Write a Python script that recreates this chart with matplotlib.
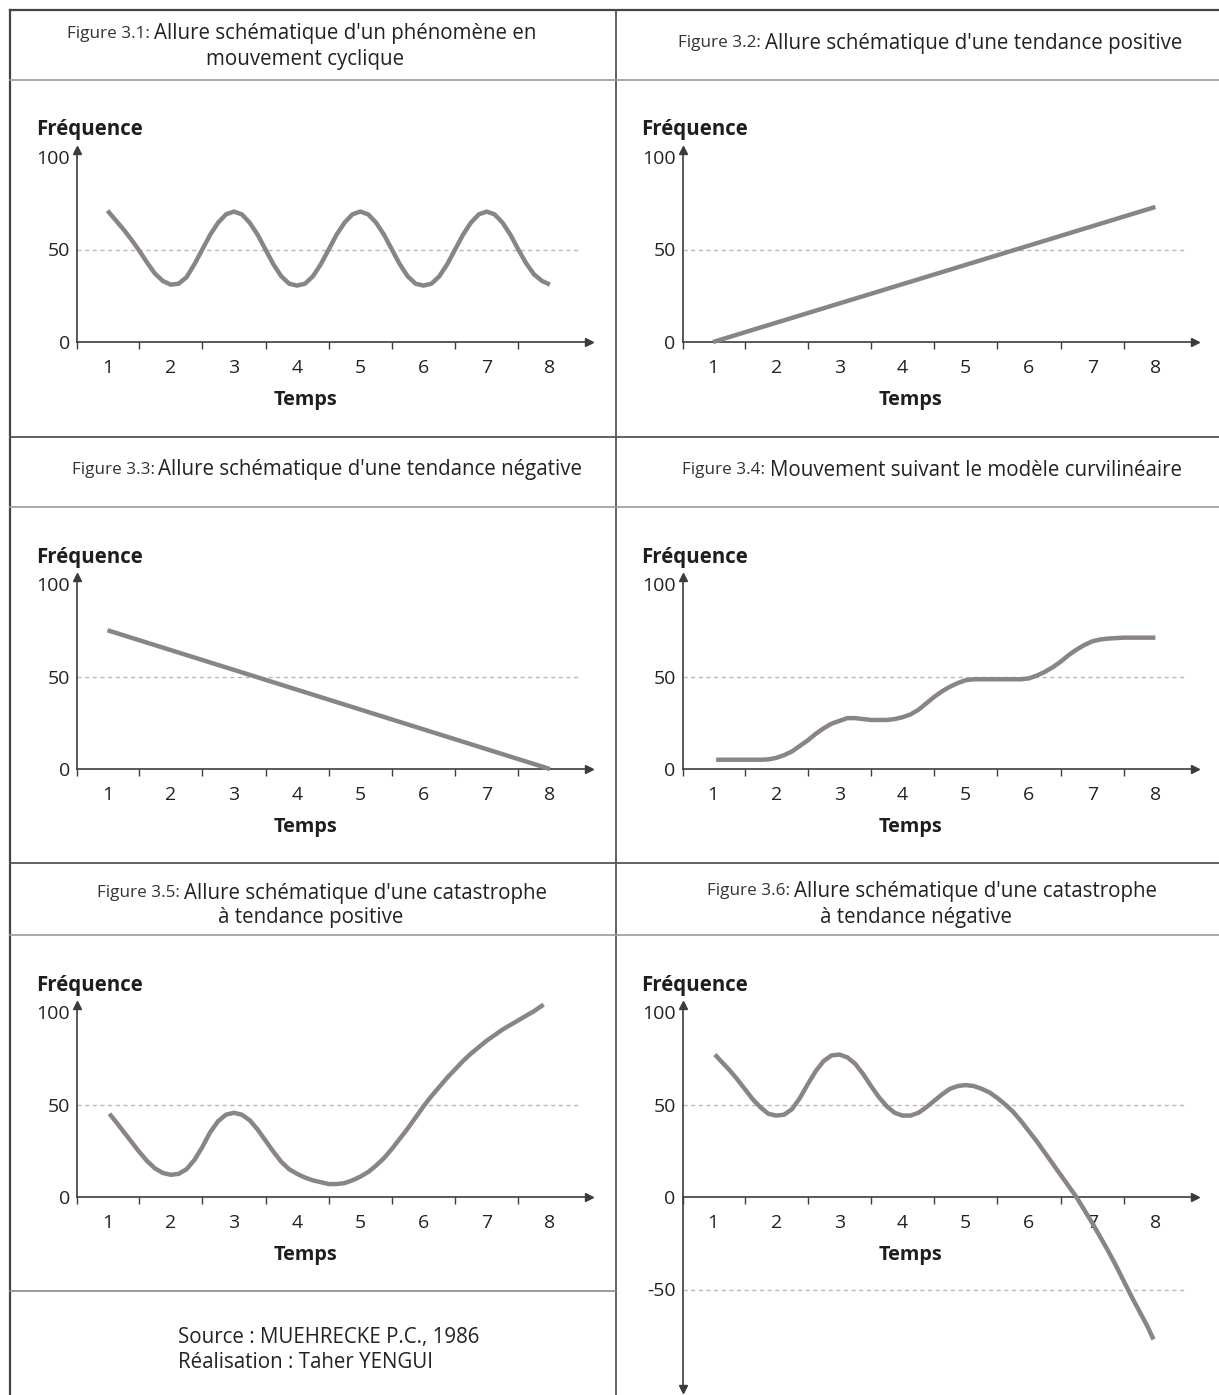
import numpy as np
import matplotlib
matplotlib.use("Agg")
import matplotlib.pyplot as plt

W, H = 1219, 1395
DPI = 100

plt.rcParams["font.family"] = ["Open Sans", "DejaVu Sans"]

CURVE_COLOR = "#8a8487"
AXIS_COLOR = "#3c3c3c"
DASH_COLOR = "#b8b8b8"
TEXT_COLOR = "#222222"

TIME_TICKS = [1, 2, 3, 4, 5, 6, 7, 8]
Y_TICKS = [0, 50, 100]
Y_TICKS_NEG = [-50, 0, 50, 100]

# Figure 3.1 - cyclic movement (read every 1/8 of a time unit)
cyc_t = [1, 1.125, 1.25, 1.375, 1.5, 1.625, 1.75, 1.875,
         2, 2.125, 2.25, 2.375, 2.5, 2.625, 2.75, 2.875,
         3, 3.125, 3.25, 3.375, 3.5, 3.625, 3.75, 3.875,
         4, 4.125, 4.25, 4.375, 4.5, 4.625, 4.75, 4.875,
         5, 5.125, 5.25, 5.375, 5.5, 5.625, 5.75, 5.875,
         6, 6.125, 6.25, 6.375, 6.5, 6.625, 6.75, 6.875,
         7, 7.125, 7.25, 7.375, 7.5, 7.625, 7.75, 7.875, 8]
cyc_f = [71, 66, 61, 55.5, 49.5, 43, 37, 33,
         31, 31.5, 35, 42, 50, 58, 64.5, 69,
         70.5, 69, 64.5, 58, 50, 42, 35.5, 31.5,
         30.5, 31.5, 35.5, 42, 50, 58, 64.5, 69,
         70.5, 69, 64.5, 58, 50, 42, 35.5, 31.5,
         30.5, 31.5, 35.5, 42, 50, 58, 64.5, 69,
         70.5, 69, 64.5, 58, 50, 42.5, 36.5, 33, 31]

# Figure 3.2 - positive trend
pos_t = [1, 8]
pos_f = [0, 73]

# Figure 3.3 - negative trend
neg_t = [1, 8]
neg_f = [75, 0]

# Figure 3.4 - curvilinear model
cur_t = [1.05, 1.25, 1.5, 1.75, 1.875,
         2, 2.125, 2.25, 2.375, 2.5, 2.625, 2.75, 2.875,
         3, 3.125, 3.25, 3.375, 3.5, 3.625, 3.75, 3.875,
         4, 4.125, 4.25, 4.375, 4.5, 4.625, 4.75, 4.875,
         5, 5.125, 5.25, 5.5, 5.75, 5.875,
         6, 6.125, 6.25, 6.375, 6.5, 6.625, 6.75, 6.875,
         7, 7.125, 7.25, 7.5, 7.75, 8]
cur_f = [5, 5, 5, 5, 5.2,
         6, 7.5, 9.5, 12.5, 15.5, 19, 22, 24.5,
         26, 27.5, 27.5, 27, 26.5, 26.5, 26.5, 27,
         28, 29.5, 32, 35.5, 39, 42, 44.5, 46.5,
         48, 48.5, 48.5, 48.5, 48.5, 48.5,
         49, 50.5, 52.5, 55, 58, 61.5, 64.5, 67,
         69, 70, 70.5, 71, 71, 71]

# Figure 3.5 - catastrophe, positive trend
catp_t = [1.03, 1.125, 1.25, 1.375, 1.5, 1.625, 1.75, 1.875,
          2, 2.125, 2.25, 2.375, 2.5, 2.625, 2.75, 2.875,
          3, 3.125, 3.25, 3.375, 3.5, 3.625, 3.75, 3.875,
          4, 4.125, 4.25, 4.375, 4.5, 4.625, 4.75, 4.875,
          5, 5.125, 5.25, 5.375, 5.5, 5.625, 5.75, 5.875,
          6, 6.125, 6.25, 6.375, 6.5, 6.625, 6.75, 6.875,
          7, 7.125, 7.25, 7.375, 7.5, 7.625, 7.75, 7.9]
catp_f = [45, 41, 35.5, 30, 24.5, 19.5, 15.5, 13,
          12, 12.5, 15, 20, 27, 35, 41, 44.5,
          45.5, 44.5, 41.5, 36.5, 30.5, 24.5, 19, 15,
          12.5, 10.5, 9, 8, 7, 7, 7.5, 9,
          11, 13.5, 17, 21, 26, 31.5, 37, 43,
          49, 54.5, 59.5, 64.5, 69, 73.5, 77.5, 81,
          84.5, 87.5, 90.5, 93, 95.5, 98, 100.5, 104]

# Figure 3.6 - catastrophe, negative trend
catn_t = [1.03, 1.125, 1.25, 1.375, 1.5, 1.625, 1.75, 1.875,
          2, 2.125, 2.25, 2.375, 2.5, 2.625, 2.75, 2.875,
          3, 3.125, 3.25, 3.375, 3.5, 3.625, 3.75, 3.875,
          4, 4.125, 4.25, 4.375, 4.5, 4.625, 4.75, 4.875,
          5, 5.125, 5.25, 5.375, 5.5, 5.625, 5.75, 5.875,
          6, 6.125, 6.25, 6.375, 6.5, 6.625, 6.75, 6.875,
          7, 7.125, 7.25, 7.375, 7.5, 7.625, 7.75, 7.875, 7.97]
catn_f = [77, 73.5, 69, 64, 58.5, 53, 48.5, 45,
          44, 44.5, 47.5, 53.5, 61, 68, 73.5, 76.5,
          77, 75.5, 72, 66.5, 60, 54, 49, 45.5,
          44, 44, 45.5, 48.5, 52, 55.5, 58.5, 60,
          60.5, 60, 58.5, 56.5, 53.5, 50, 46, 41,
          35.5, 30, 24, 18, 12, 6, 0, -7,
          -14, -21.5, -29, -37, -45.5, -54, -62, -70, -77]

PANELS = [
    dict(num="3.1", lines=["Allure schématique d'un phénomène en", "mouvement cyclique"],
         tc=[(302, 34), (305, 59)], col=0, row=0, t=cyc_t, f=cyc_f),
    dict(num="3.2", lines=["Allure schématique d'une tendance positive"],
         tc=[(930, 43)], col=1, row=0, t=pos_t, f=pos_f),
    dict(num="3.3", lines=["Allure schématique d'une tendance négative"],
         tc=[(327, 470)], col=0, row=1, t=neg_t, f=neg_f),
    dict(num="3.4", lines=["Mouvement suivant le modèle curvilinéaire"],
         tc=[(932, 470)], col=1, row=1, t=cur_t, f=cur_f),
    dict(num="3.5", lines=["Allure schématique d'une catastrophe", "à tendance positive"],
         tc=[(322, 893), (311, 918)], col=0, row=2, t=catp_t, f=catp_f),
    dict(num="3.6", lines=["Allure schématique d'une catastrophe", "à tendance négative"],
         tc=[(932, 891), (916, 917)], col=1, row=2, t=catn_t, f=catn_f, neg=True),
]

COL_X1 = [107.5, 713]          # pixel x of t = 1
ROW_Y0 = [342, 769, 1197]      # pixel y of f = 0
PX = 63.2                      # pixels per time unit
PY = 1.85                      # pixels per frequency unit
XMIN, XMAX = 0.52, 8.62
YMAX = 104

TITLE_BIG = 14.8
TITLE_SMALL = 12.3
LABEL_SIZE = 14.8
TEMPS_SIZE = 14.3
TICK_SIZE = 14


fig = plt.figure(figsize=(W / DPI, H / DPI), dpi=DPI)
fig.patch.set_facecolor("white")

bg = fig.add_axes([0, 0, 1, 1])
bg.set_xlim(0, W)
bg.set_ylim(H, 0)
bg.axis("off")

# frame of the plate
bg.plot([10, W], [10, 10], color="#444444", lw=1.6)
bg.plot([10, 10], [10, H], color="#444444", lw=1.6)
bg.plot([616, 616], [10, H], color="#555555", lw=1.3)
for yy in [437, 863]:
    bg.plot([10, W], [yy, yy], color="#555555", lw=1.3)
for yy in [80, 507, 935]:
    bg.plot([10, W], [yy, yy], color="#9a9a9a", lw=1.2)
bg.plot([10, 616], [1291, 1291], color="#8a8a8a", lw=1.2)

renderer = fig.canvas.get_renderer()


def title_line(xc, yc, small, big):
    parts = []
    if small:
        parts.append(bg.text(0, yc, small, fontsize=TITLE_SMALL, color="#333333",
                             ha="left", va="center"))
    parts.append(bg.text(0, yc, big, fontsize=TITLE_BIG, color="#222222",
                         ha="left", va="center"))
    widths = [p.get_window_extent(renderer).width for p in parts]
    gap = 4 if small else 0
    x = xc - (sum(widths) + gap) / 2
    for p, w in zip(parts, widths):
        p.set_x(x)
        x += w + gap


for p in PANELS:
    for i, (line, (xc, yc)) in enumerate(zip(p["lines"], p["tc"])):
        title_line(xc, yc, "Figure %s:" % p["num"] if i == 0 else None, line)

    x1 = COL_X1[p["col"]]
    y0 = ROW_Y0[p["row"]]
    neg = p.get("neg", False)
    ymin = -YMAX if neg else 0

    left = x1 - (1 - XMIN) * PX
    right = x1 + (XMAX - 1) * PX
    top = y0 - YMAX * PY
    bottom = y0 - ymin * PY
    ax = fig.add_axes([left / W, 1 - bottom / H, (right - left) / W, (bottom - top) / H])
    ax.set_xlim(XMIN, XMAX)
    ax.set_ylim(ymin, YMAX)
    ax.patch.set_alpha(0)

    for s in ["top", "right"]:
        ax.spines[s].set_visible(False)
    ax.spines["bottom"].set_position(("data", 0))
    for s in ["left", "bottom"]:
        ax.spines[s].set_color(AXIS_COLOR)
        ax.spines[s].set_linewidth(1.2)

    # arrow heads
    ax.plot([XMAX], [0], marker=">", ms=6, color=AXIS_COLOR, clip_on=False)
    ax.plot([XMIN], [YMAX], marker="^", ms=6, color=AXIS_COLOR, clip_on=False)
    if neg:
        ax.plot([XMIN], [ymin], marker="v", ms=6, color=AXIS_COLOR, clip_on=False)

    ax.set_xticks(TIME_TICKS)
    ax.set_xticks([XMIN] + [t + 0.5 for t in TIME_TICKS[:-1]], minor=True)
    ax.tick_params(axis="x", which="major", length=0, pad=12,
                   labelsize=TICK_SIZE, labelcolor=TEXT_COLOR)
    ax.tick_params(axis="x", which="minor", length=5, width=1, color=AXIS_COLOR)

    yt = Y_TICKS_NEG if neg else Y_TICKS
    ax.set_yticks(yt)
    ax.set_yticklabels([str(v) for v in yt])
    ax.tick_params(axis="y", length=0, pad=5, labelsize=TICK_SIZE, labelcolor=TEXT_COLOR)

    dash_levels = [50, -50] if neg else [50]
    for lv in dash_levels:
        ax.plot([XMIN, 8.47], [lv, lv], color=DASH_COLOR, lw=1.0,
                linestyle=(0, (3, 2.5)), zorder=1)

    ax.plot(p["t"], p["f"], color=CURVE_COLOR, lw=3.2, solid_joinstyle="round",
            solid_capstyle="butt", clip_on=False, zorder=3)

    # axis titles
    bg.text(x1 - 71.5, y0 - 212, "Fréquence", fontsize=LABEL_SIZE, fontweight="bold",
            color="#1e1e1e", ha="left", va="center")
    bg.text(x1 + 197.5, y0 + 58, "Temps", fontsize=TEMPS_SIZE, fontweight="bold",
            color="#1e1e1e", ha="center", va="center")

bg.text(178, 1338, "Source : MUEHRECKE P.C., 1986", fontsize=TITLE_BIG,
        color="#222222", ha="left", va="center")
bg.text(178, 1362, "Réalisation : Taher YENGUI", fontsize=TITLE_BIG,
        color="#222222", ha="left", va="center")

fig.savefig("out.png", dpi=DPI)
